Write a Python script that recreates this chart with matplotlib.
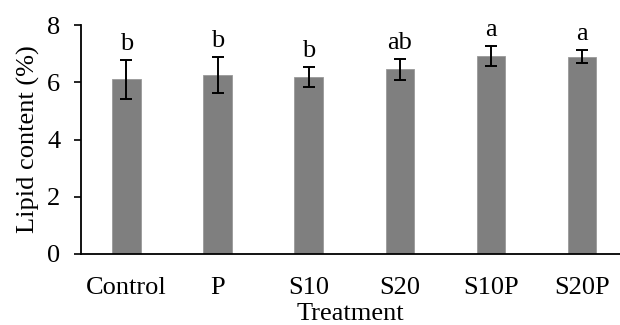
import matplotlib.pyplot as plt
import numpy as np

plt.rcParams['font.family'] = ['Liberation Serif', 'DejaVu Serif']

treatments = ['Control', 'P', 'S10', 'S20', 'S10P', 'S20P']
lipid = [6.11, 6.25, 6.18, 6.46, 6.92, 6.90]
err = [0.68, 0.63, 0.35, 0.37, 0.35, 0.22]
letters = ['b', 'b', 'b', 'ab', 'a', 'a']

fs = 19

fig = plt.figure(figsize=(6.2, 3.25), dpi=100)
ax = fig.add_axes([0.1306, 0.2185, 0.8694, 0.7045])

x = np.arange(len(treatments))
ax.bar(x, lipid, width=0.31, color='#7f7f7f', edgecolor='#9a9a9a', linewidth=0.6,
       yerr=err, capsize=4.5, error_kw={'elinewidth': 1.4, 'capthick': 1.4, 'ecolor': 'black'})

for xi, v, e, lab in zip(x, lipid, err, letters):
    ax.annotate(lab, xy=(xi, v + e), xytext=(0, 7), textcoords='offset points',
                ha='center', va='baseline', fontsize=fs)

ax.set_xlim(-0.5, 5.42)
ax.set_ylim(0, 8)
ax.set_yticks([0, 2, 4, 6, 8])
ax.set_xticks(x)
ax.set_xticklabels(treatments)
ax.tick_params(axis='x', length=0, pad=16.5, labelsize=fs)
ax.tick_params(axis='y', length=5, width=1.2, labelsize=fs, pad=10)
ax.set_ylabel('Lipid content (%)', fontsize=fs, labelpad=5)
ax.set_xlabel('Treatment', fontsize=fs, labelpad=3)

for s in ['top', 'right']:
    ax.spines[s].set_visible(False)
ax.spines['left'].set_linewidth(1.3)
ax.spines['bottom'].set_linewidth(1.3)

fig.savefig('out.png', dpi=100)
